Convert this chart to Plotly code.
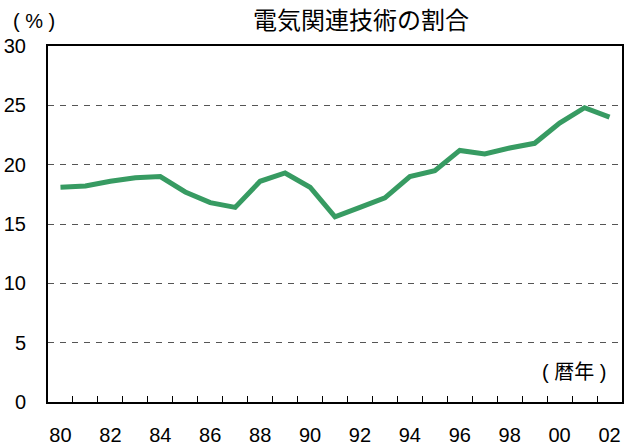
import plotly.graph_objects as go

years = ["80", "81", "82", "83", "84", "85", "86", "87", "88", "89", "90", "91",
         "92", "93", "94", "95", "96", "97", "98", "99", "00", "01", "02"]
share = [18.1, 18.2, 18.6, 18.9, 19.0, 17.7, 16.8, 16.4, 18.6, 19.3, 18.1, 15.6,
         16.4, 17.2, 19.0, 19.5, 21.2, 20.9, 21.4, 21.8, 23.5, 24.8, 24.0]
x_labels = [y if i % 2 == 0 else "" for i, y in enumerate(years)]
y_ticks = [0, 5, 10, 15, 20, 25, 30]

title_text = "電気関連技術の割合"
y_unit = "( % )"
x_unit = "( 暦年 )"

FONT = "Liberation Sans, Arial, Noto Sans CJK JP"

fig = go.Figure()
fig.add_trace(go.Scatter(
    x=years, y=share, mode="lines",
    line=dict(color="#379B62", width=5),
    showlegend=False, hoverinfo="skip",
))

fig.update_layout(
    width=629, height=446,
    margin=dict(l=48, r=7, t=46, b=44, autoexpand=False),
    paper_bgcolor="white", plot_bgcolor="white",
    font=dict(family=FONT, size=20, color="black"),
    showlegend=False,
)

fig.update_xaxes(
    type="category",
    categoryorder="array", categoryarray=years,
    tickmode="array", tickvals=years, ticktext=x_labels,
    tickson="boundaries", tickangle=0, automargin=False,
    ticks="inside", ticklen=6, tickwidth=1, tickcolor="black",
    ticklabelstandoff=14,
    showline=True, linecolor="black", linewidth=2, mirror=True,
    showgrid=False, zeroline=False,
    range=[-0.5, 22.5],
    tickfont=dict(size=20, family=FONT),
)

fig.update_yaxes(
    range=[0, 30], automargin=False,
    tickmode="array", tickvals=y_ticks,
    ticks="", ticklabelstandoff=16,
    showline=True, linecolor="black", linewidth=2, mirror=True,
    showgrid=True, gridcolor="#555555", gridwidth=1, griddash="6px,6px",
    zeroline=False,
    tickfont=dict(size=20, family=FONT),
)

fig.add_annotation(
    text=title_text, xref="paper", yref="paper",
    x=0.545, y=1.0, yshift=28, xanchor="center", yanchor="middle",
    showarrow=False, font=dict(size=24, family="Noto Sans CJK JP", color="black"),
)
fig.add_annotation(
    text=y_unit, xref="paper", yref="paper",
    x=0, xshift=-14, y=1.0, yshift=25, xanchor="center", yanchor="middle",
    showarrow=False, font=dict(size=20, family=FONT, color="black"),
)
fig.add_annotation(
    text=x_unit, xref="paper", yref="paper",
    x=1.0, xshift=-14, y=0, yshift=30, xanchor="right", yanchor="middle",
    showarrow=False, font=dict(size=20, family=FONT, color="black"),
)

fig.write_html(
    "out.html",
    config={"displayModeBar": False},
    post_script="document.body.style.margin='0';document.body.style.overflow='hidden';",
)
